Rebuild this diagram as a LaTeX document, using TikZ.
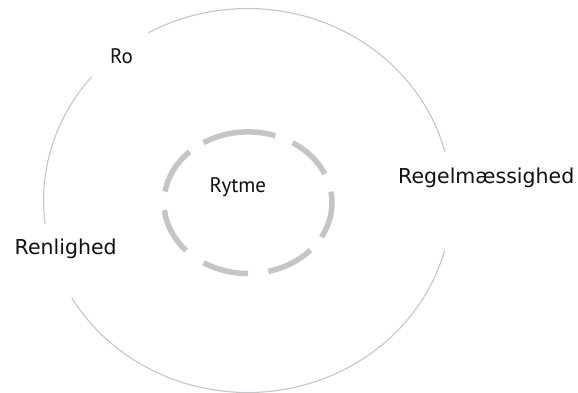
\documentclass[tikz,border=0pt]{standalone}
\usepackage{fontspec}
\setmainfont{DejaVu Sans}
\newfontfamily\ptsans{PT Sans}
\definecolor{ringgray}{RGB}{196,197,203}
\definecolor{txt}{RGB}{15,15,15}
\begin{document}
\begin{tikzpicture}[x=1pt,y=1pt,
  outerring/.style={draw=ringgray, line width=1.1pt},
  innerring/.style={draw=ringgray, line width=5.5pt},
  lbl/.style={inner sep=0pt, anchor=base west, text=txt, font=\fontsize{20.5}{24}\selectfont},
  lblb/.style={inner sep=0pt, anchor=base west, text=txt, font=\ptsans\fontsize{21}{25}\selectfont}]
\useasboundingbox (0,0) rectangle (578,393);
\coordinate (oc) at (247.6,192.5);
\coordinate (ic) at (248,190.3);
\foreach \a/\b in {14.6/119.1, 139.9/187, 210.4/345}
  \draw[outerring] ([shift={(\a:204pt and 192pt)}]oc) arc[start angle=\a, end angle=\b, x radius=204pt, y radius=192pt];
\foreach \a/\b in {24/58, 71/122, 134/171, 186/222.5, 238/270, 284/318, 331/369}
  \draw[innerring] ([shift={(\a:84pt and 70.8pt)}]ic) arc[start angle=\a, end angle=\b, x radius=84pt, y radius=70.8pt];
\node[lblb] (rytme) at (209.5,200.3) {Rytme};
\node[lblb] (ro) at (110,329) {Ro};
\node[lbl] (regel) at (398,209.7) {Regelmæssighed};
\node[lbl] (renlighed) at (14.5,138) {Renlighed};
\end{tikzpicture}
\end{document}
